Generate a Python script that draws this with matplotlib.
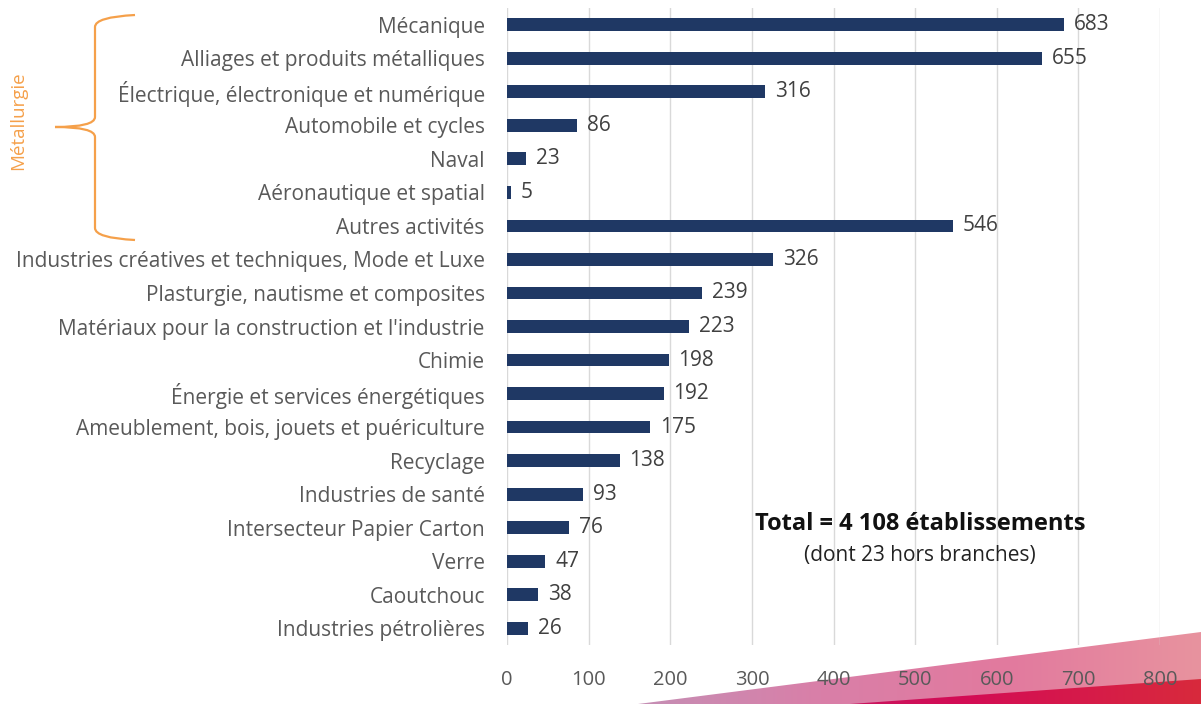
import numpy as np
import matplotlib
matplotlib.use("Agg")
import matplotlib.pyplot as plt
from matplotlib.path import Path
from matplotlib.patches import PathPatch, Polygon

plt.rcParams['font.family'] = ['Open Sans', 'DejaVu Sans']

categories = ["Mécanique", "Alliages et produits métalliques",
              "Électrique, électronique et numérique", "Automobile et cycles",
              "Naval", "Aéronautique et spatial", "Autres activités",
              "Industries créatives et techniques, Mode et Luxe",
              "Plasturgie, nautisme et composites",
              "Matériaux pour la construction et l'industrie", "Chimie",
              "Énergie et services énergétiques",
              "Ameublement, bois, jouets et puériculture", "Recyclage",
              "Industries de santé", "Intersecteur Papier Carton", "Verre",
              "Caoutchouc", "Industries pétrolières"]
values = [683, 655, 316, 86, 23, 5, 546, 326, 239, 223, 198, 192, 175, 138,
          93, 76, 47, 38, 26]
xticks = [0, 100, 200, 300, 400, 500, 600, 700, 800]
group_label = "Métallurgie"
total_text = "Total = 4 108 établissements"
sub_text = "(dont 23 hors branches)"

W, H = 1201, 704
fig = plt.figure(figsize=(W / 100, H / 100), dpi=100)

# decorative gradient wedge at the bottom right
bg = fig.add_axes([0, 0, 1, 1])
bg.set_xlim(0, W)
bg.set_ylim(H, 0)
bg.axis('off')
grad1 = np.linspace(0, 1, 256).reshape(1, -1)
cm1 = matplotlib.colors.LinearSegmentedColormap.from_list(
    "w1", ["#c48fb5", "#d97fa8", "#e27a9e", "#e8939f"])
cm2 = matplotlib.colors.LinearSegmentedColormap.from_list(
    "w2", ["#c8155f", "#d30c55", "#d61a4a", "#d82a3c"])
im1 = bg.imshow(grad1, cmap=cm1, extent=[630, W, H, 625], aspect='auto', zorder=0)
poly1 = Polygon([[638, H], [W, 632], [W, H]], closed=True, transform=bg.transData)
im1.set_clip_path(poly1)
im2 = bg.imshow(grad1, cmap=cm2, extent=[840, W, H, 675], aspect='auto', zorder=1)
poly2 = Polygon([[850, H], [W, 679], [W, H]], closed=True, transform=bg.transData)
im2.set_clip_path(poly2)

# orange brace
orange = "#f5a04a"
xt, xs, xe = 55, 95, 135
y0, ym, y1 = 15, 127, 240
r = 10
verts = [(xe, y0), (xs, y0 + 2), (xs, y0 + r + 2), (xs, ym - r), (xs, ym), (xt, ym),
         (xs, ym), (xs, ym + r), (xs, y1 - r - 2), (xs, y1 - 2), (xe, y1)]
codes = [Path.MOVETO, Path.CURVE3, Path.CURVE3, Path.LINETO, Path.CURVE3, Path.CURVE3,
         Path.CURVE3, Path.CURVE3, Path.LINETO, Path.CURVE3, Path.CURVE3]
bg.add_patch(PathPatch(Path(verts, codes), fill=False, edgecolor=orange, lw=1.6))
bg.text(18, 121, group_label, rotation=90, color=orange, fontsize=13.5,
        ha='center', va='center')

ax = fig.add_axes([507 / W, 1 - 645 / H, (1160 - 507) / W, (645 - 8) / H])
ax.patch.set_alpha(0)
y = np.arange(len(categories))
ax.barh(y, values, height=0.38, color="#1f3864", zorder=3)
for yi, v in zip(y, values):
    ax.text(v + 12, yi, str(v), va='center', ha='left', fontsize=15,
            color="#404040")
ax.set_ylim(len(categories) - 0.5, -0.5)
ax.set_xlim(0, 800)
ax.set_yticks(y)
ax.set_yticklabels(categories, fontsize=15, color="#595959")
ax.set_xticks(xticks)
ax.set_xticklabels([str(t) for t in xticks], fontsize=14.5, color="#595959")
ax.tick_params(length=0)
ax.tick_params(axis='y', pad=16)
ax.tick_params(axis='x', pad=18)
ax.grid(axis='x', color="#d9d9d9", lw=1, zorder=0)
for s in ax.spines.values():
    s.set_visible(False)

fig.text(920 / W, 1 - 524 / H, total_text, fontsize=17, fontweight='bold',
         ha='center', va='center', color="#111111")
fig.text(920 / W, 1 - 555 / H, sub_text, fontsize=15, ha='center',
         va='center', color="#222222")

fig.savefig("out.png", dpi=100)
